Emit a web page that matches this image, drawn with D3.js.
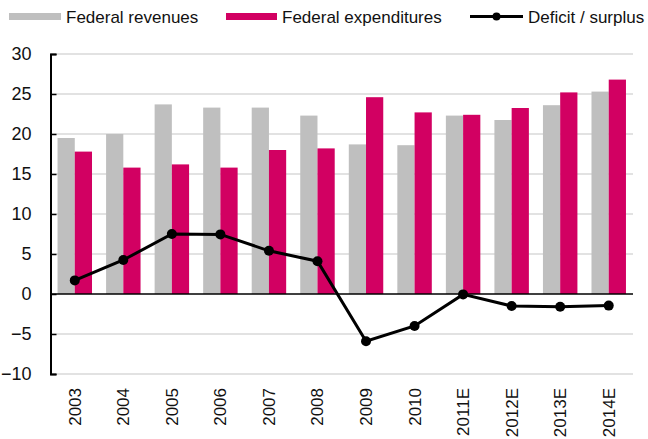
<!DOCTYPE html>
<html>
<head>
<meta charset="utf-8">
<script src="https://cdn.jsdelivr.net/npm/d3@7"></script>
<style>
  body { margin: 0; background: #fff; }
  svg { display: block; font-family: "Liberation Sans", Arial, sans-serif; }
</style>
</head>
<body>
<svg id="chart"></svg>
<script>
// data
const years = ["2003","2004","2005","2006","2007","2008","2009","2010","2011E","2012E","2013E","2014E"];
const revenues = [19.5, 20.0, 23.7, 23.3, 23.3, 22.3, 18.7, 18.6, 22.3, 21.75, 23.6, 25.3];
const expenditures = [17.8, 15.8, 16.2, 15.8, 18.0, 18.2, 24.6, 22.7, 22.4, 23.25, 25.2, 26.8];
const balance = [1.7, 4.25, 7.5, 7.45, 5.4, 4.1, -5.9, -4.0, -0.05, -1.5, -1.6, -1.45];
const yTicks = [-10, -5, 0, 5, 10, 15, 20, 25, 30];
const seriesNames = ["Federal revenues", "Federal expenditures", "Deficit / surplus"];

const grey = "#bfbfbf", pink = "#d20062";

const W = 648, H = 439;
const svg = d3.select("#chart").attr("width", W).attr("height", H);

const x0 = d3.scaleBand().domain(years).range([50.5, 633])
    .paddingInner(0.29).paddingOuter(0.145);
const x1 = d3.scaleBand().domain(["rev","exp"]).range([0, x0.bandwidth()]);
const y = d3.scaleLinear().domain([-10, 30]).range([374, 54]);

// gridlines
svg.append("g").selectAll("line").data(yTicks.filter(d => d !== 0)).join("line")
    .attr("x1", 50.5).attr("x2", 633)
    .attr("y1", d => y(d)).attr("y2", d => y(d))
    .attr("stroke", "#d9d9d9").attr("stroke-width", 1.5);

// bars
const groups = svg.append("g").selectAll("g").data(years).join("g")
    .attr("transform", d => `translate(${x0(d)},0)`);
groups.append("rect")
    .attr("x", x1("rev")).attr("width", x1.bandwidth())
    .attr("y", (d, i) => y(revenues[i]))
    .attr("height", (d, i) => y(0) - y(revenues[i]))
    .attr("fill", grey);
groups.append("rect")
    .attr("x", x1("exp")).attr("width", x1.bandwidth())
    .attr("y", (d, i) => y(expenditures[i]))
    .attr("height", (d, i) => y(0) - y(expenditures[i]))
    .attr("fill", pink);

// zero line
svg.append("line")
    .attr("x1", 50.5).attr("x2", 633)
    .attr("y1", y(0)).attr("y2", y(0))
    .attr("stroke", "#000").attr("stroke-width", 1.5);

// y axis
const yAxis = d3.axisLeft(y).tickValues(yTicks).tickSize(-6).tickPadding(19);
const ya = svg.append("g").attr("transform", "translate(50.5,0)").call(yAxis);
ya.select(".domain").attr("stroke-width", 2);
ya.selectAll(".tick line").attr("stroke-width", 1.5);
ya.selectAll("text").attr("font-size", 18).attr("fill", "#111")
    .attr("font-family", "Liberation Sans, Arial, sans-serif");

// x labels
svg.append("g").selectAll("text").data(years).join("text")
    .attr("transform", d => `translate(${x0(d) + x0.bandwidth() / 2 + 6},388) rotate(-90)`)
    .attr("text-anchor", "end")
    .attr("font-size", 17).attr("fill", "#111")
    .text(d => d);

// deficit line
const line = d3.line()
    .x((d, i) => x0(years[i]) + x0.bandwidth() / 2)
    .y(d => y(d));
svg.append("path").datum(balance)
    .attr("d", line).attr("fill", "none")
    .attr("stroke", "#000").attr("stroke-width", 3);
svg.append("g").selectAll("circle").data(balance).join("circle")
    .attr("cx", (d, i) => x0(years[i]) + x0.bandwidth() / 2)
    .attr("cy", d => y(d)).attr("r", 5).attr("fill", "#000");

// legend
const leg = svg.append("g").attr("font-size", 17).attr("fill", "#111");
leg.append("rect").attr("x", 9).attr("y", 13).attr("width", 52).attr("height", 7).attr("fill", grey);
leg.append("text").attr("x", 66).attr("y", 22.5).text(seriesNames[0]);
leg.append("rect").attr("x", 226).attr("y", 13).attr("width", 51).attr("height", 7).attr("fill", pink);
leg.append("text").attr("x", 282).attr("y", 22.5).text(seriesNames[1]);
leg.append("line").attr("x1", 470).attr("x2", 523).attr("y1", 16.5).attr("y2", 16.5)
    .attr("stroke", "#000").attr("stroke-width", 3);
leg.append("circle").attr("cx", 496.5).attr("cy", 16.5).attr("r", 4).attr("fill", "#000");
leg.append("text").attr("x", 528).attr("y", 22.5).text(seriesNames[2]);
</script>
</body>
</html>
